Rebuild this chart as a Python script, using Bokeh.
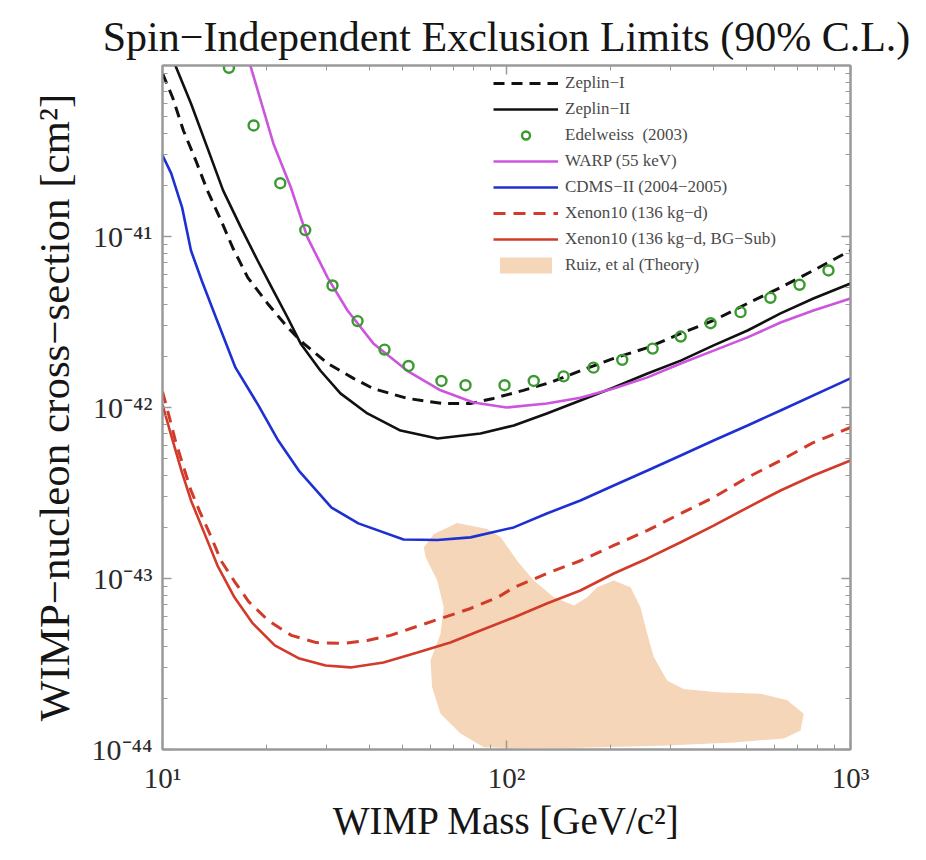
from bokeh.plotting import figure
from bokeh.models import (FixedTicker, CustomJSTickFormatter, LogAxis, Legend,
                          LegendItem)
from bokeh.embed import file_html
from bokeh.resources import INLINE

# ---------------- data (WIMP mass in GeV/c^2, cross-section in cm^2) ----------------
zeplin1_mass = [10, 10.7, 11.5, 12.5, 13.5, 14.8, 16.0, 17.7, 20.2, 23.1, 25.7, 30.2,
                35.9, 41.0, 51.5, 65.6, 78.6, 91.6, 112, 134, 164, 205, 257, 321,
                400, 502, 626, 780, 1000]
zeplin1_sigma = [9.0e-41, 6.5e-41, 4.17e-41, 2.78e-41, 1.86e-41, 1.24e-41, 8.6e-42,
                 5.75e-42, 4.06e-42, 2.94e-42, 2.37e-42, 1.81e-42, 1.48e-42, 1.29e-42,
                 1.13e-42, 1.055e-42, 1.055e-42, 1.13e-42, 1.26e-42, 1.40e-42,
                 1.64e-42, 1.94e-42, 2.24e-42, 2.71e-42, 3.23e-42, 4.06e-42, 5.03e-42,
                 6.33e-42, 8.28e-42]

zeplin2_mass = [10.9, 12.1, 13.5, 15.0, 16.9, 18.9, 21.0, 23.1, 25.2, 28.8, 32.9, 39.4,
                49.2, 63.0, 84.0, 105, 131, 164, 205, 257, 321, 400, 502, 626, 780, 1000]
zeplin2_sigma = [1.0e-40, 6.0e-41, 3.31e-41, 1.86e-41, 1.13e-41, 7.24e-42, 4.83e-42,
                 3.36e-42, 2.37e-42, 1.64e-42, 1.21e-42, 9.23e-43, 7.33e-43, 6.59e-43,
                 7.05e-43, 7.85e-43, 9.23e-43, 1.10e-42, 1.31e-42, 1.58e-42, 1.88e-42,
                 2.31e-42, 2.82e-42, 3.55e-42, 4.34e-42, 5.31e-42]

edelweiss_mass = [15.6, 18.4, 22.0, 26.0, 31.2, 36.9, 44.2, 51.9, 64.7, 76.0, 98.7,
                  120, 146.5, 179, 217, 266, 321, 392, 479, 585, 711, 863]
edelweiss_sigma = [9.7e-41, 4.46e-41, 2.05e-41, 1.09e-41, 5.17e-42, 3.20e-42, 2.18e-42,
                   1.75e-42, 1.43e-42, 1.35e-42, 1.35e-42, 1.43e-42, 1.52e-42, 1.71e-42,
                   1.90e-42, 2.21e-42, 2.60e-42, 3.11e-42, 3.61e-42, 4.38e-42, 5.22e-42,
                   6.33e-42]

warp_mass = [18.0, 19.3, 21.0, 23.6, 26.4, 30.2, 34.5, 41.0, 51.5, 64.3, 80.2, 100,
             131, 164, 205, 257, 321, 400, 502, 626, 780, 1000]
warp_sigma = [1.0e-40, 6.24e-41, 3.50e-41, 1.94e-41, 9.86e-42, 5.75e-42, 3.69e-42,
              2.37e-42, 1.64e-42, 1.26e-42, 1.07e-42, 1.0e-42, 1.055e-42, 1.14e-42,
              1.29e-42, 1.50e-42, 1.81e-42, 2.15e-42, 2.57e-42, 3.14e-42, 3.69e-42,
              4.34e-42]

cdms_mass = [10, 10.6, 11.4, 12.1, 13.0, 14.3, 16.3, 19.0, 21.7, 24.9, 31.0, 37.1,
             50.2, 63.0, 78.6, 105, 131, 164, 205, 257, 321, 400, 502, 626, 1000]
cdms_sigma = [2.98e-41, 2.34e-41, 1.48e-41, 8.28e-42, 5.53e-42, 3.36e-42, 1.71e-42,
              1.03e-42, 6.41e-43, 4.28e-43, 2.60e-43, 2.10e-43, 1.69e-43, 1.68e-43,
              1.74e-43, 1.99e-43, 2.40e-43, 2.86e-43, 3.50e-43, 4.28e-43, 5.24e-43,
              6.41e-43, 7.85e-43, 9.60e-43, 1.48e-42]

xenon_mass = [10, 10.4, 10.9, 11.5, 12.1, 12.9, 13.8, 14.8, 16.2, 17.8, 20.3, 23.7,
              28.0, 33.4, 39.4, 46.0, 53.7, 64.3, 78.6, 94.1, 105, 131, 164, 205, 257,
              321, 400, 502, 626, 780, 1000]
xenon_sigma = [1.24e-42, 9.23e-43, 6.41e-43, 4.52e-43, 3.27e-43, 2.40e-43, 1.78e-43,
               1.27e-43, 9.60e-44, 7.33e-44, 5.68e-44, 4.65e-44, 4.22e-44, 4.17e-44,
               4.34e-44, 4.65e-44, 5.17e-44, 5.83e-44, 6.68e-44, 7.74e-44, 8.85e-44,
               1.07e-43, 1.27e-43, 1.56e-43, 1.91e-43, 2.40e-43, 2.98e-43, 3.90e-43,
               4.90e-43, 6.24e-43, 7.64e-43]

xenon_bg_mass = [10, 10.6, 11.35, 12.1, 13.25, 14.45, 16.2, 18.3, 21.2, 25.0, 29.8,
                 35.2, 43.9, 55.1, 68.7, 84.0, 105, 131, 164, 205, 257, 321, 400, 502,
                 626, 780, 1000]
xenon_bg_sigma = [1.04e-42, 6.86e-43, 4.28e-43, 2.86e-43, 1.83e-43, 1.19e-43, 7.74e-44,
                  5.46e-44, 4.06e-44, 3.40e-44, 3.10e-44, 3.02e-44, 3.23e-44, 3.69e-44,
                  4.22e-44, 4.97e-44, 5.92e-44, 7.14e-44, 8.51e-44, 1.07e-43, 1.31e-43,
                  1.63e-43, 2.04e-43, 2.60e-43, 3.27e-43, 4.00e-43, 4.90e-43]

ruiz_mass = [57.5, 61.5, 71.9, 87.9, 96.1, 107.4, 120, 137.3, 157, 171.7, 183.5, 205,
             229.4, 245.2, 256.5, 268, 293, 327, 410, 547, 655, 731, 716, 640, 458, 293,
             187.6, 120, 85.9, 73.5, 64.3, 60.8, 60.1, 64.3, 65.7, 62.9, 58.2]
ruiz_sigma = [1.52e-43, 1.82e-43, 2.11e-43, 1.95e-43, 1.75e-43, 1.27e-43, 9.73e-44,
              7.78e-44, 6.95e-44, 7.78e-44, 8.89e-44, 9.73e-44, 8.89e-44, 6.79e-44,
              4.75e-44, 3.47e-44, 2.53e-44, 2.26e-44, 2.16e-44, 2.12e-44, 1.94e-44,
              1.62e-44, 1.29e-44, 1.16e-44, 1.10e-44, 1.055e-44, 1.03e-44, 1.01e-44,
              1.03e-44, 1.24e-44, 1.62e-44, 2.31e-44, 3.31e-44, 4.75e-44, 6.79e-44,
              9.73e-44, 1.33e-43]

x_ticks = [10, 100, 1000]
x_tick_labels = ["10¹", "10²", "10³"]
y_ticks = [1e-44, 1e-43, 1e-42, 1e-41]
y_tick_labels = ["10⁻⁴⁴", "10⁻⁴³", "10⁻⁴²", "10⁻⁴¹"]

legend_labels = ["Zeplin−I", "Zeplin−II", "Edelweiss  (2003)", "WARP (55 keV)",
                 "CDMS−II (2004−2005)", "Xenon10 (136 kg−d)",
                 "Xenon10 (136 kg−d, BG−Sub)", "Ruiz, et al (Theory)"]

# ---------------- styling ----------------
SERIF = "Liberation Serif"
FRAME = "#9a9a9a"
BLACK = "#111111"
MAGENTA = "#cc55dd"
BLUE = "#1f30d2"
RED = "#d23a2a"
GREEN = "#3a9a30"
PEACH = "#f5d6b8"

x_minor = [m * 10 ** k for k in range(1, 3) for m in range(2, 10)]
y_minor = [m * 10.0 ** k for k in range(-44, -40) for m in range(2, 10)]

p = figure(width=910, height=844, x_axis_type="log", y_axis_type="log",
           x_range=(10, 1000), y_range=(1e-44, 1e-40),
           output_backend="svg", toolbar_location=None,
           min_border_left=162, min_border_right=60, min_border_top=65,
           min_border_bottom=95)

p.title.text = "Spin−Independent Exclusion Limits (90% C.L.)"
p.title.align = "center"
p.title.offset = -6
p.title.text_font = SERIF
p.title.text_font_size = "42px"
p.title.text_font_style = "normal"
p.title.text_color = "#151515"
p.title.standoff = 12

p.grid.visible = False
p.outline_line_color = FRAME
p.outline_line_width = 2
p.background_fill_color = "white"
p.border_fill_color = "white"

fmt_code = """
let best = 0;
const lt = Math.log10(tick);
for (let i = 0; i < vals.length; i++) {
  if (Math.abs(Math.log10(vals[i]) - lt) < Math.abs(Math.log10(vals[best]) - lt)) best = i;
}
return labs[best];
"""
x_fmt = CustomJSTickFormatter(args=dict(vals=x_ticks, labs=x_tick_labels), code=fmt_code)
y_fmt = CustomJSTickFormatter(args=dict(vals=y_ticks, labs=y_tick_labels), code=fmt_code)
blank_fmt = CustomJSTickFormatter(code="return '';")


def style_axis(ax, label_size="30px"):
    ax.axis_line_color = FRAME
    ax.axis_line_width = 2
    ax.major_tick_line_color = FRAME
    ax.minor_tick_line_color = FRAME
    ax.major_tick_line_width = 1.5
    ax.minor_tick_line_width = 1
    ax.major_tick_in = 9
    ax.major_tick_out = 0
    ax.minor_tick_in = 5
    ax.minor_tick_out = 0
    ax.major_label_text_font = SERIF
    ax.major_label_text_font_size = label_size
    ax.major_label_text_color = "#2a2a2a"
    ax.axis_label_text_font = SERIF
    ax.axis_label_text_font_style = "normal"
    ax.axis_label_text_color = "#151515"


xa = p.xaxis[0]
xa.ticker = FixedTicker(ticks=x_ticks, minor_ticks=x_minor)
xa.formatter = x_fmt
style_axis(xa, "29px")
xa.major_label_standoff = 12
xa.axis_label = "WIMP Mass [GeV/c²]"
xa.axis_label_text_font_size = "39px"
xa.axis_label_standoff = 2

ya = p.yaxis[0]
ya.ticker = FixedTicker(ticks=y_ticks, minor_ticks=y_minor)
ya.formatter = y_fmt
style_axis(ya)
ya.major_label_standoff = 10
ya.axis_label = "WIMP−nucleon cross−section [cm²]"
ya.axis_label_text_font_size = "43px"
ya.axis_label_standoff = 11

top_ax = LogAxis(ticker=FixedTicker(ticks=x_ticks, minor_ticks=x_minor), formatter=blank_fmt)
style_axis(top_ax, "1px")
top_ax.major_label_standoff = 0
p.add_layout(top_ax, "above")
right_ax = LogAxis(ticker=FixedTicker(ticks=y_ticks, minor_ticks=y_minor), formatter=blank_fmt)
style_axis(right_ax, "1px")
right_ax.major_label_standoff = 0
p.add_layout(right_ax, "right")

# ---------------- glyphs ----------------
r_ruiz = p.patch(ruiz_mass, ruiz_sigma, fill_color=PEACH, line_color=None)
r_z1 = p.line(zeplin1_mass, zeplin1_sigma, line_color=BLACK, line_width=3, line_dash="11 7")
r_z2 = p.line(zeplin2_mass, zeplin2_sigma, line_color=BLACK, line_width=2.6)
r_warp = p.line(warp_mass, warp_sigma, line_color=MAGENTA, line_width=2.6)
r_cdms = p.line(cdms_mass, cdms_sigma, line_color=BLUE, line_width=2.6)
r_xe = p.line(xenon_mass, xenon_sigma, line_color=RED, line_width=3, line_dash="12 8")
r_xebg = p.line(xenon_bg_mass, xenon_bg_sigma, line_color=RED, line_width=2.6)
r_edel = p.scatter(edelweiss_mass, edelweiss_sigma, marker="circle", size=10,
                   fill_color=None, line_color=GREEN, line_width=2.4)

renderers = [r_z1, r_z2, r_edel, r_warp, r_cdms, r_xe, r_xebg, r_ruiz]
legend = Legend(items=[LegendItem(label=lab, renderers=[r])
                       for lab, r in zip(legend_labels, renderers)],
                location=(331, 474))
legend.padding = 0
legend.margin = 0
legend.spacing = 6
legend.glyph_width = 65
legend.glyph_height = 20
legend.label_height = 20
legend.label_standoff = 7
legend.label_text_font = SERIF
legend.label_text_font_size = "17px"
legend.label_text_color = "#4a4a4a"
legend.background_fill_alpha = 0
legend.border_line_color = None
p.add_layout(legend, "center")

open("out.html", "w").write(file_html(p, INLINE))
